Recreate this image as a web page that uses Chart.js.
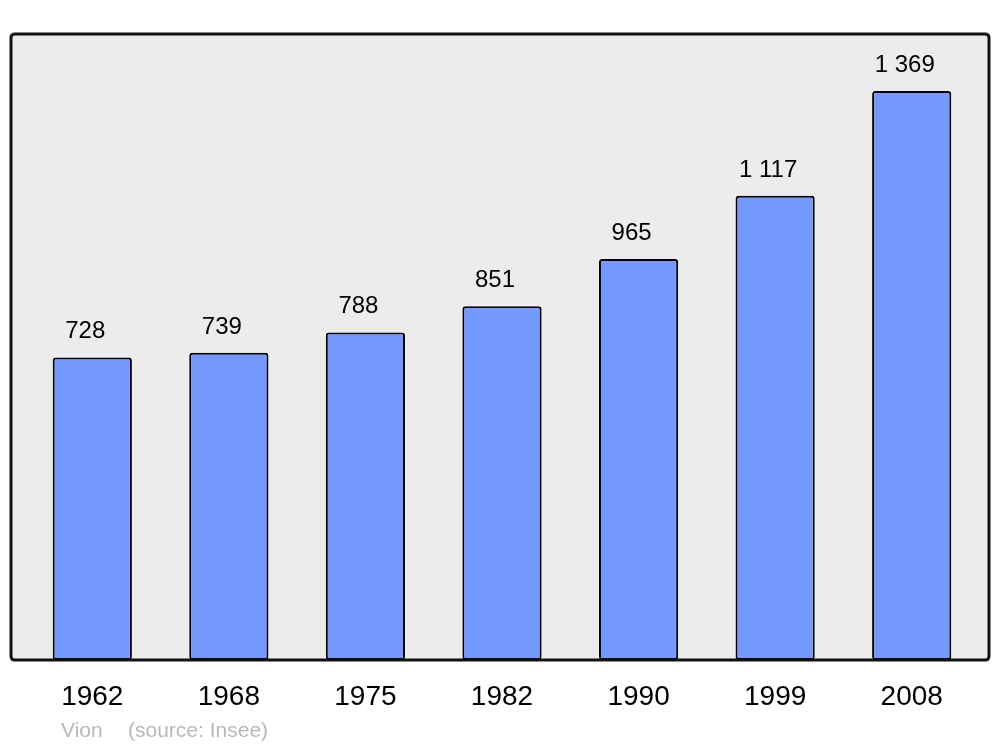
<!DOCTYPE html>
<html>
<head>
<meta charset="utf-8">
<script src="https://cdn.jsdelivr.net/npm/chart.js@4"></script>
<style>
  html, body { margin: 0; padding: 0; background: #fff; }
  #wrap { width: 1000px; height: 747px; }
</style>
</head>
<body>
<div id="wrap"><canvas id="chart" width="1000" height="747"></canvas></div>
<script>
const years = ["1962", "1968", "1975", "1982", "1990", "1999", "2008"];
const population = [728, 739, 788, 851, 965, 1117, 1369];
const commune = "Vion";
const source = "(source: Insee)";

const FONT = "'Liberation Sans', Arial, sans-serif";

// nombres avec espace comme séparateur de milliers
const fmt = (v) => String(v).replace(/\B(?=(\d{3})+(?!\d))/g, " ");

function roundRect(c, x, y, w, h, r) {
  c.beginPath();
  c.moveTo(x + r, y);
  c.lineTo(x + w - r, y);
  c.quadraticCurveTo(x + w, y, x + w, y + r);
  c.lineTo(x + w, y + h - r);
  c.quadraticCurveTo(x + w, y + h, x + w - r, y + h);
  c.lineTo(x + r, y + h);
  c.quadraticCurveTo(x, y + h, x, y + h - r);
  c.lineTo(x, y + r);
  c.quadraticCurveTo(x, y, x + r, y);
  c.closePath();
}

const frame = {
  id: "frame",
  beforeDatasetsDraw(chart) {
    const { ctx, chartArea: a } = chart;
    ctx.save();
    roundRect(ctx, a.left - 13, a.top, a.right - a.left + 22, a.bottom - a.top, 4);
    ctx.fillStyle = "#ececec";
    ctx.fill();
    ctx.restore();
  },
  afterDatasetsDraw(chart) {
    const { ctx, chartArea: a } = chart;
    ctx.save();
    roundRect(ctx, a.left - 13, a.top, a.right - a.left + 22, a.bottom - a.top, 4);
    ctx.strokeStyle = "#111";
    ctx.lineWidth = 3;
    ctx.stroke();

    // étiquettes des valeurs
    const meta = chart.getDatasetMeta(0);
    ctx.fillStyle = "#000";
    ctx.font = "24px " + FONT;
    ctx.textAlign = "center";
    ctx.textBaseline = "alphabetic";
    meta.data.forEach((bar, i) => {
      ctx.fillText(fmt(population[i]), bar.x - 7, bar.y - 19);
    });

    // source
    ctx.fillStyle = "#b8b8b8";
    ctx.font = "21px " + FONT;
    ctx.textAlign = "left";
    ctx.fillText(commune, 61, 737);
    ctx.fillText(source, 128, 737);
    ctx.restore();
  },
};

new Chart(document.getElementById("chart"), {
  type: "bar",
  data: {
    labels: years,
    datasets: [
      {
        data: population,
        backgroundColor: "#7399ff",
        borderColor: "#000",
        borderWidth: 2,
        borderRadius: 3,
        borderSkipped: false,
        barPercentage: 0.58,
        categoryPercentage: 1,
      },
    ],
  },
  options: {
    responsive: false,
    animation: false,
    layout: { padding: { top: 34, left: 24, right: 20, bottom: 37 } },
    plugins: { legend: { display: false }, tooltip: { enabled: false } },
    scales: {
      x: {
        grid: { display: false, drawTicks: false },
        border: { display: false },
        ticks: { color: "#000", font: { family: FONT, size: 28 }, padding: 20 },
        afterFit: (s) => { s.height = 50; },
      },
      y: {
        display: false,
        min: 0,
        max: 1506,
      },
    },
  },
  plugins: [frame],
});
</script>
</body>
</html>
